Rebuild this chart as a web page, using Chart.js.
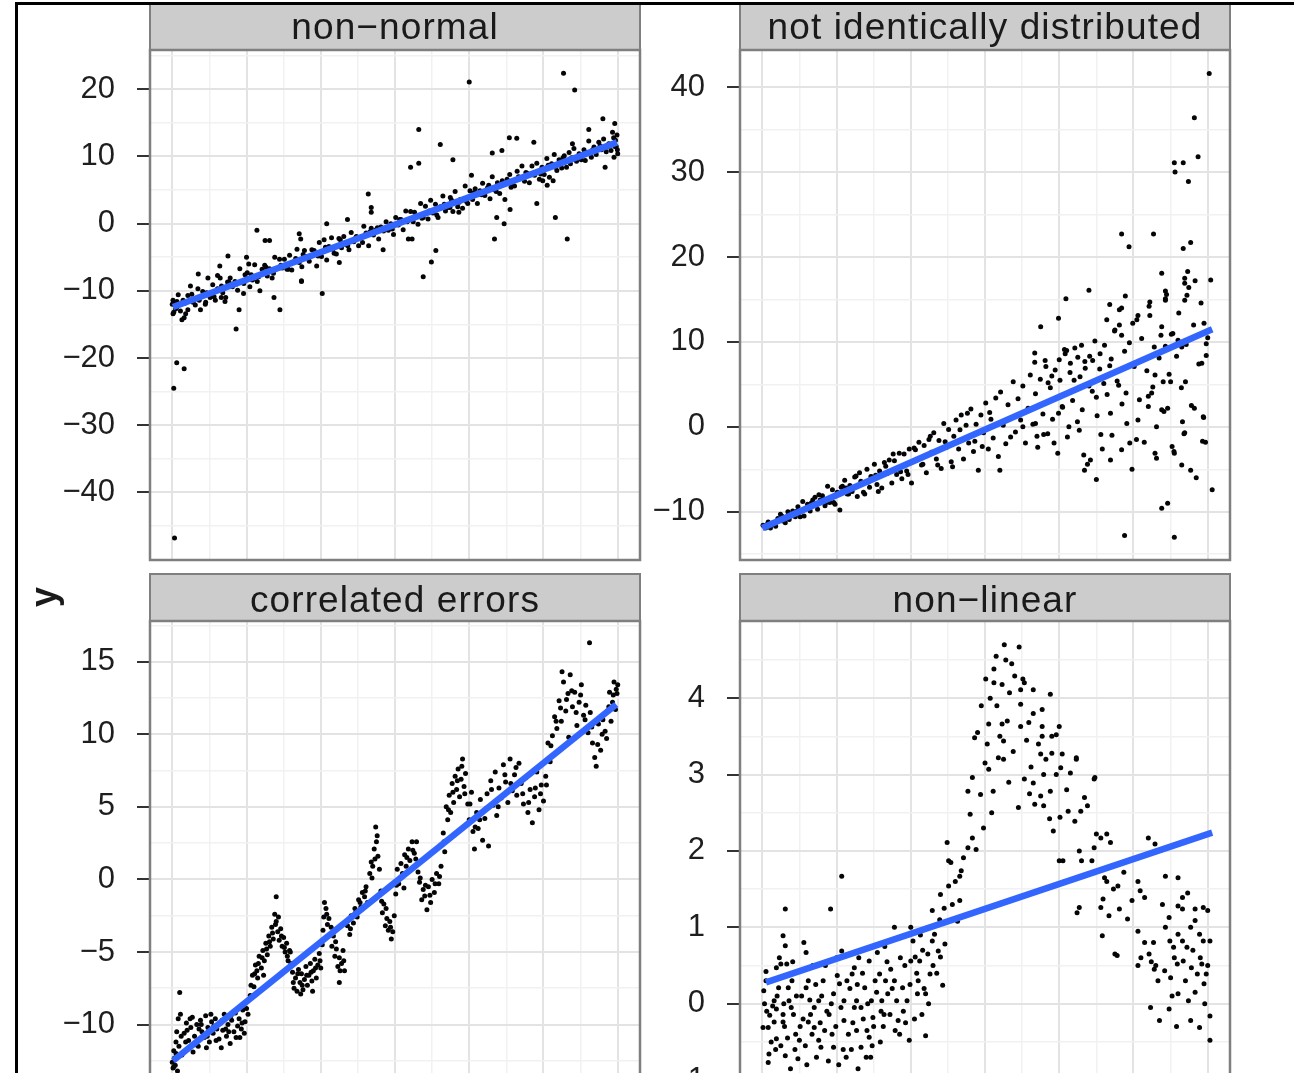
<!DOCTYPE html>
<html>
<head>
<meta charset="utf-8">
<script src="https://cdn.jsdelivr.net/npm/chart.js@4.4.1/dist/chart.umd.min.js"></script>
<style>
  html, body { margin: 0; padding: 0; background: #fff; }
  #fig { position: relative; width: 1294px; height: 1073px; overflow: hidden; background: #fff; }
  #fig canvas { position: absolute; }
  #frame { position: absolute; left: 15px; top: 2px; width: 1400px; height: 1300px;
           border-left: 3px solid #000; border-top: 3px solid #000; pointer-events: none; z-index: 5; }
  #ylab { position: absolute; left: 44px; top: 597px; transform: translate(-50%, -50%) rotate(-90deg);
          font-family: 'Liberation Sans', Arial, sans-serif; font-size: 36px; font-weight: bold; color: #1a1a1a; z-index: 4; }
</style>
</head>
<body>
<div id="fig">
  <canvas id="c1" width="660" height="560" style="left:0px;top:3px"></canvas>
  <canvas id="c2" width="650" height="560" style="left:600px;top:3px"></canvas>
  <canvas id="c3" width="660" height="560" style="left:0px;top:573px"></canvas>
  <canvas id="c4" width="650" height="560" style="left:600px;top:573px"></canvas>
  <div id="ylab">y</div>
  <div id="frame"></div>
</div>
<script>
// ---------------- data ----------------
const panelTitles = ['non\u2212normal', 'not identically distributed', 'correlated errors', 'non\u2212linear'];

const xTicks = [0, 5, 10, 15, 20, 25, 30, 35, 40, 45, 50, 55, 60];
const xMajor = [0, 10, 20, 30, 40, 50, 60];

const yTicksNonNormal = [-45, -40, -35, -30, -25, -20, -15, -10, -5, 0, 5, 10, 15, 20, 25];
const yMajorNonNormal = [-40, -30, -20, -10, 0, 10, 20];
const yTicksNotIdent = [-15, -10, -5, 0, 5, 10, 15, 20, 25, 30, 35, 40];
const yMajorNotIdent = [-10, 0, 10, 20, 30, 40];
const yTicksCorrelated = [-17.5, -15, -12.5, -10, -7.5, -5, -2.5, 0, 2.5, 5, 7.5, 10, 12.5, 15, 17.5];
const yMajorCorrelated = [-15, -10, -5, 0, 5, 10, 15];
const yTicksNonLinear = [-1.5, -1, -0.5, 0, 0.5, 1, 1.5, 2, 2.5, 3, 3.5, 4, 4.5];
const yMajorNonLinear = [-1, 0, 1, 2, 3, 4];

const fitNonNormal = [[0.1, -12.4], [59.9, 12.1]];
const fitNotIdent = [[0.0, -11.9], [60.6, 11.5]];
const fitCorrelated = [[0.1, -12.5], [59.8, 12.05]];
const fitNonLinear = [[0.5, 0.28], [60.6, 2.24]];

const nonNormalPts = [
[0.1,-11.4],[0.45,-12.7],[0.8,-10.6],[1.1,-13.0],[1.45,-11.4],[1.8,-13.4],[2.1,-10.7],[2.45,-9.3],[2.8,-11.7],
[3.1,-12.1],[3.45,-9.7],[3.8,-10.9],[4.1,-10.1],[4.45,-12.0],[4.8,-8.1],[5.1,-11.0],[5.45,-9.1],[5.8,-11.4],
[6.1,-9.7],[6.45,-8.1],[6.8,-10.3],[7.1,-11.6],[7.45,-8.7],[7.8,-8.1],[8.1,-9.4],[8.45,-8.6],[8.8,-9.9],
[9.1,-6.7],[9.45,-8.7],[9.8,-7.6],[10.1,-7.3],[10.45,-9.4],[10.8,-8.4],[11.1,-6.1],[11.45,-8.6],[11.8,-10.0],
[12.1,-6.8],[12.45,-6.2],[12.8,-7.8],[13.1,-6.7],[13.45,-8.1],[13.8,-5.0],[14.1,-6.7],[14.45,-5.3],[14.8,-6.6],
[15.1,-5.3],[15.45,-6.8],[15.8,-4.7],[16.1,-6.9],[16.45,-5.6],[16.8,-3.8],[17.1,-5.8],[17.45,-6.4],[17.8,-4.0],
[18.1,-4.9],[18.45,-5.6],[18.8,-3.9],[19.1,-4.0],[19.45,-6.3],[19.8,-2.8],[20.1,-4.9],[20.45,-2.4],[20.8,-5.4],
[21.1,-3.4],[21.45,-2.1],[21.8,-4.4],[22.1,-4.5],[22.45,-2.2],[22.8,-3.6],[23.1,-1.9],[23.45,-3.1],[23.8,-3.9],
[24.1,-1.3],[24.45,-2.7],[24.8,-1.9],[25.1,-3.3],[25.45,-2.0],[25.8,-0.4],[26.1,-1.4],[26.45,-3.3],[26.8,-0.7],
[27.1,-1.7],[27.45,-0.9],[27.8,-2.3],[28.1,-0.5],[28.45,-1.1],[28.8,0.3],[29.1,-1.0],[29.45,0.0],[29.8,-1.6],
[30.1,0.9],[30.45,-0.2],[30.8,0.6],[31.1,-0.9],[31.45,1.9],[31.8,0.5],[32.1,1.8],[32.45,0.3],[32.8,1.0],
[33.1,-0.1],[33.45,3.0],[33.8,0.9],[34.1,2.6],[34.45,0.7],[34.8,3.5],[35.1,1.6],[35.45,2.9],[35.8,0.9],
[36.1,2.5],[36.45,4.1],[36.8,1.9],[37.1,2.4],[37.45,3.9],[37.8,1.8],[38.1,4.8],[38.45,2.5],[38.8,3.6],
[39.1,2.3],[39.45,5.6],[39.8,3.0],[40.1,4.9],[40.45,3.6],[40.8,5.2],[41.1,3.0],[41.45,4.9],[41.8,6.0],
[42.1,4.2],[42.45,5.3],[42.8,3.7],[43.1,7.0],[43.45,5.0],[43.8,6.1],[44.1,4.5],[44.45,6.4],[44.8,3.6],
[45.1,6.6],[45.45,7.3],[45.8,5.7],[46.1,5.6],[46.45,7.8],[46.8,6.9],[47.1,8.6],[47.45,6.3],[47.8,7.5],
[48.1,6.1],[48.45,8.6],[48.8,7.2],[49.1,9.0],[49.45,6.6],[49.8,8.4],[50.1,7.3],[50.45,9.7],[50.8,6.9],
[51.1,8.9],[51.45,10.3],[51.8,7.9],[52.1,9.5],[52.45,8.3],[52.8,10.1],[53.1,8.4],[53.45,10.6],[53.8,9.8],
[54.1,11.2],[54.45,9.3],[54.8,10.4],[55.1,9.5],[55.45,11.0],[55.8,10.6],[56.1,12.3],[56.45,9.9],[56.8,11.4],
[57.1,10.3],[57.45,12.1],[57.8,11.0],[58.1,12.6],[58.45,10.7],[58.8,11.9],[59.1,10.9],[59.45,12.8],[59.8,11.5],
[59.9,13.2],[60.0,10.4],[59.7,12.4],[59.95,11.0],[59.5,9.9],[59.3,13.6],[0.0,-12.0],[0.2,-13.2],[0.4,-11.9],[0.6,-12.5],
[0.3,-46.8],[0.2,-24.5],[0.6,-20.7],[1.6,-21.6],[8.6,-15.7],[20.2,-10.4],[9.0,-12.8],[14.5,-12.8],[13.7,-11.0],
[17.4,-8.6],[1.3,-14.3],[1.6,-14.0],[0.1,-13.4],[2.1,-12.8],[3.8,-12.8],[6.6,-11.0],[7.2,-11.0],[9.6,-10.4],[4.5,-11.7],
[40.0,21.1],[52.7,22.4],[54.2,19.9],[33.2,14.0],[36.1,11.8],[32.1,8.4],[33.2,9.0],[37.8,9.5],[45.4,12.8],[46.4,12.7],
[48.7,12.1],[43.1,10.5],[44.4,10.9],[58.0,15.6],[59.6,14.9],[56.1,14.0],[53.9,11.9],[58.3,8.4],[51.3,6.4],[50.5,5.7],
[49.9,6.4],[51.6,0.9],[53.2,-2.3],[49.1,3.0],[43.4,-2.3],[43.7,0.9],[44.7,0.0],[45.5,2.1],[35.5,-4.0],[34.9,-5.7],
[33.8,-7.9],[26.4,4.4],[26.8,2.4],[26.8,1.7],[23.6,0.6],[20.8,0.0],[11.4,-1.0],[12.5,-2.5],[13.1,-2.5],[17.1,-1.5],
[17.3,-2.3],[22.5,-5.8],[7.5,-4.8],[6.4,-6.3],[6.1,-7.7],[3.5,-7.5],[10.0,-5.0],[10.3,-6.0],[17.4,-8.5],[28.4,-3.9],
[31.8,-2.3],[32.3,-2.3],[37.4,2.4],[38.6,1.7],[40.3,7.2]
];
const nonNormalDense = [
[0.63,-11.6],[1.63,-11.9],[2.63,-10.5],[3.63,-11.4],[4.63,-10.3],[5.63,-10.9],[6.63,-9.3],[7.63,-8.7],[8.63,-9.0],[9.63,-8.9],
[10.63,-7.6],[11.63,-7.9],[12.63,-6.5],[13.63,-7.4],[14.63,-6.2],[15.63,-6.8],[16.63,-5.2],[17.63,-4.6],[18.63,-4.9],[19.63,-4.8],
[20.63,-3.5],[21.63,-3.8],[22.63,-2.4],[23.63,-3.3],[24.63,-2.2],[25.63,-2.8],[26.63,-1.2],[27.63,-0.6],[28.63,-0.9],[29.63,-0.8],
[30.63,0.6],[31.63,0.3],[32.63,1.7],[33.63,0.8],[34.63,1.9],[35.63,1.3],[36.63,2.9],[37.63,3.5],[38.63,3.2],[39.63,3.3],
[40.63,4.6],[41.63,4.3],[42.63,5.7],[43.63,4.8],[44.63,6.0],[45.63,5.4],[46.63,7.0],[47.63,7.6],[48.63,7.3],[49.63,7.4],
[50.63,8.7],[51.63,8.4],[52.63,9.8],[53.63,8.9],[54.63,10.0],[55.63,9.4],[56.63,11.0],[57.63,11.6],[58.63,11.4],[59.63,11.5]
];

const notIdentPts = [
[0.1,-11.6],[0.45,-11.9],[0.8,-11.2],[1.1,-11.9],[1.45,-11.3],[1.8,-11.7],[2.1,-10.8],[2.45,-10.3],[2.8,-11.1],
[3.1,-11.3],[3.45,-10.0],[3.8,-10.5],[4.1,-9.9],[4.45,-10.6],[4.8,-9.4],[5.1,-10.6],[5.45,-8.8],[5.8,-9.7],
[6.1,-9.1],[6.45,-9.9],[6.8,-8.6],[7.1,-8.3],[7.45,-9.7],[7.8,-8.6],[8.1,-8.1],[8.45,-9.3],[8.8,-7.0],
[9.1,-8.9],[9.45,-7.4],[9.8,-9.1],[10.1,-7.7],[10.45,-9.8],[10.8,-7.0],[11.1,-6.3],[11.45,-7.9],[11.8,-6.9],
[12.1,-7.6],[12.45,-5.9],[12.8,-8.2],[13.1,-5.4],[13.45,-6.7],[13.8,-7.9],[14.1,-5.0],[14.45,-7.1],[14.8,-5.9],
[15.1,-4.4],[15.45,-6.8],[15.8,-5.2],[16.1,-7.2],[16.45,-4.2],[16.8,-5.5],[17.1,-3.9],[17.45,-6.6],[17.8,-4.0],
[18.1,-5.6],[18.45,-3.1],[18.8,-6.1],[19.1,-3.2],[19.45,-5.2],[19.8,-2.6],[20.1,-6.6],[20.45,-2.5],[20.8,-3.9],
[21.1,-1.8],[21.45,-4.5],[21.8,-2.2],[22.1,-5.4],[22.45,-1.5],[22.8,-3.0],[23.1,-0.7],[23.45,-3.8],[23.8,-1.6],
[24.1,-4.9],[24.45,0.4],[24.8,-2.4],[25.1,-0.3],[25.45,-4.1],[25.8,-1.1],[26.1,0.8],[26.45,-2.6],[26.8,1.4],
[27.1,-3.8],[27.45,0.2],[27.8,-1.9],[28.1,2.1],[28.45,-2.9],[28.8,0.3],[29.1,-5.1],[29.45,1.4],[29.8,-0.7],
[30.1,2.8],[30.45,-2.6],[30.8,0.9],[31.1,-1.3],[31.45,3.4],[31.8,-3.5],[32.1,4.1],[32.45,0.2],[32.8,-2.0],
[33.1,2.6],[33.45,-1.2],[33.8,5.3],[34.1,-0.6],[34.45,3.3],[34.8,0.8],[35.1,4.8],[35.45,-1.9],[35.8,2.2],
[36.1,6.1],[36.45,0.3],[36.8,3.9],[37.1,-2.4],[37.45,5.6],[37.8,1.5],[38.1,7.8],[38.45,-0.8],[38.8,4.6],
[39.1,0.9],[39.45,6.7],[39.8,-3.1],[40.1,5.5],[40.45,2.3],[40.8,8.6],[41.1,-1.2],[41.45,6.4],[41.8,3.1],
[42.1,9.3],[42.45,0.6],[42.8,5.9],[43.1,2.0],[43.45,7.7],[43.8,-4.4],[44.1,8.3],[44.45,4.2],[44.8,10.1],
[45.1,1.3],[45.45,6.8],[45.8,-2.6],[46.1,9.6],[46.45,3.8],[46.8,7.2],[47.1,-1.0],[47.45,11.3],[47.8,5.4],
[48.1,13.8],[48.45,2.7],[48.8,8.9],[49.1,0.4],[49.45,9.9],[49.8,-5.0],[50.1,7.1],[50.45,12.6],[50.8,3.2],
[51.1,10.4],[51.45,-1.8],[51.8,6.6],[52.1,14.2],[52.45,4.0],[52.8,9.4],[53.1,-3.7],[53.45,8.1],[53.8,11.8],
[54.1,1.8],[54.45,15.6],[54.8,6.2],[55.1,10.9],[55.45,-2.9],[55.8,8.3],[56.1,13.4],[56.45,4.6],[56.8,-0.8],
[57.1,9.7],[57.45,16.4],[57.8,2.5],[58.1,12.0],[58.45,-6.0],[58.8,7.4],[59.1,14.6],[59.45,1.1],[59.8,9.8],
[60.2,41.6],[58.2,36.4],[58.7,31.8],[55.5,31.1],[56.7,31.1],[55.6,30.0],[57.4,28.9],[48.4,22.7],[52.7,22.7],[49.4,21.2],
[57.7,21.7],[56.7,21.0],[53.8,18.1],[60.4,17.3],[57.3,18.3],[56.9,17.5],[56.9,16.9],[58.3,17.2],[54.3,16.0],[54.3,15.1],
[44.0,16.1],[48.9,15.4],[40.9,15.1],[52.2,14.7],[46.8,14.4],[48.4,14.0],[46.4,12.6],[48.1,12.0],[47.5,11.4],[48.4,10.8],
[49.9,12.2],[50.6,13.1],[52.2,13.1],[54.3,14.9],[56.9,14.9],[57.2,15.5],[37.5,11.8],[39.9,12.8],[40.7,9.1],[36.7,8.7],
[36.7,7.6],[59.5,12.2],[60.0,10.5],[59.8,8.4],[59.2,7.5],[56.0,10.2],[56.5,9.4],[55.3,11.0],[54.3,9.5],[53.7,10.8],
[57.0,5.3],[55.0,5.3],[54.0,5.3],[52.9,6.1],[52.6,4.7],[52.0,3.6],[52.0,2.4],[49.0,4.0],[48.0,4.9],[50.6,0.8],
[50.4,-1.5],[49.5,-1.9],[48.4,-2.7],[46.9,-3.9],[53.1,0.0],[52.9,-3.1],[53.8,2.0],[54.6,2.2],[56.6,0.6],[56.9,-0.7],
[56.5,-4.5],[57.7,-5.1],[55.2,-2.3],[55.5,-3.1],[58.2,2.2],[59.4,1.2],[59.3,-1.7],[59.7,-1.8],[60.6,-7.4],[54.6,-9.0],
[53.8,-9.6],[48.8,-12.8],[55.5,-13.0],[43.4,-5.1],[45.0,-6.2],[44.2,-3.9],[43.3,-3.3],[45.6,-0.9],[46.9,1.6],[32.0,-5.1],
[39.3,-1.9],[39.9,1.6],[40.4,2.4],[41.3,0.0],[42.7,-0.4],[37.0,-1.1],[37.9,-0.9],[35.1,0.0],[36.8,0.4],[38.2,7.1],
[41.5,7.5],[42.5,8.2],[43.5,6.9],[44.5,7.8],[45.5,8.6],[42.0,5.5],[44.0,4.8],[39.0,6.0],[40.0,7.9],[41.0,9.0],
[38.5,5.2],[43.0,9.6],[45.0,3.5],[46.0,5.1],[47.0,8.0]
];
const notIdentDense = [
[0.63,-11.5],[1.63,-11.4],[2.63,-10.5],[3.63,-10.9],[4.63,-9.95],[5.63,-10.5],[6.63,-8.95],[7.63,-8.0],[8.63,-8.9],[9.63,-8.9],
[10.63,-7.1],[11.63,-7.9],[12.63,-5.8],[13.63,-7.7],[14.63,-5.85],[15.63,-7.6],[16.63,-4.65],[17.63,-3.2],[18.63,-5.3],[19.63,-5.6],
[20.63,-2.7],[21.63,-4.4],[22.63,-1.1],[23.63,-4.5],[24.63,-1.75],[25.63,-4.7],[26.63,-0.35],[27.63,1.6],[28.63,-1.7],[29.63,-2.3],
[30.63,1.7],[0.28,-11.7],[1.28,-11.5],[2.28,-10.9],[3.28,-10.7],[4.28,-10.2],[5.28,-9.9],[6.28,-9.4],[7.28,-9.2],[8.28,-8.5],
[9.28,-8.3],[10.28,-7.9],[11.28,-7.2],[12.28,-7.1],[13.28,-6.4],[14.28,-6.5],[15.28,-5.7]
];

const correlatedPts = [
[0.0,-12.6],[0.1,-13.0],[0.2,-11.8],[0.3,-12.3],[0.5,-11.2],[0.6,-10.5],[0.8,-9.6],[1.0,-7.8],[1.1,-9.3],[1.2,-10.8],
[0.4,-12.8],[0.9,-11.5],[0.7,-13.2],
[1.6,-10.6],[1.9,-9.9],[2.2,-11.1],[2.5,-10.2],[2.7,-9.5],[3.0,-10.8],[3.3,-10.0],[3.5,-11.5],[3.8,-9.7],[4.0,-10.5],
[4.3,-10.9],[4.5,-9.4],[4.8,-10.2],[5.0,-11.2],[5.3,-9.8],[5.5,-10.6],[5.8,-9.6],[6.0,-10.3],[6.3,-11.0],[6.5,-9.9],
[6.8,-10.4],[7.0,-9.3],[7.3,-10.8],[7.5,-10.0],[7.8,-11.3],[8.0,-9.7],[8.3,-10.5],[8.5,-9.2],[8.8,-10.1],[9.0,-9.6],
[9.3,-10.3],[9.5,-9.0],[9.8,-9.8],[10.0,-8.9],[2.0,-10.4],[3.6,-10.3],[5.6,-10.1],[7.6,-10.5],[9.1,-10.9],[6.6,-11.6],
[4.6,-11.6],[2.8,-11.9],
[10.5,-8.0],[10.8,-6.6],[11.0,-7.4],[11.2,-5.9],[11.5,-6.8],[11.7,-5.3],[12.0,-6.1],[12.2,-4.9],[12.4,-5.6],[12.6,-4.4],
[12.8,-5.2],[13.0,-3.9],[13.2,-4.6],[13.4,-3.3],[13.6,-4.1],[13.8,-2.4],[14.0,-1.2],[14.0,-2.9],[14.2,-3.6],[14.4,-4.2],
[14.6,-3.4],[14.8,-4.6],[15.0,-4.0],[15.2,-5.0],[15.4,-4.4],[15.6,-5.6],[15.8,-4.9],[16.0,-5.8],[12.3,-6.6],[11.4,-6.3],
[16.2,-6.4],[16.4,-7.5],[16.6,-6.8],[16.8,-7.7],[17.0,-6.2],[17.2,-7.1],[17.4,-6.5],[17.6,-7.6],[17.8,-6.9],[18.0,-6.0],
[18.2,-7.3],[18.4,-6.6],[18.6,-5.8],[18.8,-7.0],[19.0,-6.3],[19.2,-5.5],[19.4,-6.8],[19.6,-5.9],[19.8,-5.1],[20.0,-6.1],
[17.3,-7.9],[18.9,-7.7],
[20.2,-4.5],[20.4,-2.6],[20.5,-1.6],[20.7,-2.0],[20.9,-3.1],[21.1,-2.7],[21.3,-3.8],[21.5,-4.6],[21.7,-3.9],[21.9,-5.3],
[22.1,-4.8],[22.3,-6.0],[22.5,-5.4],[22.5,-7.1],[22.8,-5.8],[23.0,-4.9],[23.2,-6.3],
[23.6,-3.2],[23.9,-3.8],[24.1,-2.5],[24.4,-3.0],[24.6,-2.0],[24.9,-2.6],[25.1,-1.4],[25.4,-1.9],[25.6,-0.9],[25.9,-1.2],
[26.1,-0.5],[26.3,-1.6],
[26.6,0.4],[26.8,1.2],[27.0,0.9],[27.2,2.1],[27.4,3.6],[27.5,2.6],[27.7,1.6],[27.9,0.7],
[28.1,-0.8],[28.3,-2.3],[28.5,-1.7],[28.7,-3.2],[28.9,-2.7],[29.1,-3.5],[29.3,-2.9],[29.5,-4.1],[29.7,-3.6],[29.9,-2.5],
[30.1,-1.0],[30.3,0.7],[30.5,-0.3],[30.8,1.1],[31.0,0.4],[31.3,1.7],[31.5,0.9],[31.8,2.1],[32.0,1.3],[32.3,2.6],
[32.6,1.8],[32.9,2.6],[31.2,-0.6],
[33.1,0.5],[33.3,-0.2],[33.6,-1.4],[33.8,-0.7],[34.0,-1.15],[34.3,-2.1],[34.5,-0.5],[34.8,-1.6],[35.0,0.0],[35.3,-0.9],
[35.6,0.4],[35.9,-0.3],[36.2,0.9],
[36.5,3.2],[36.7,1.9],[36.9,5.0],[37.1,4.1],[37.3,5.8],[37.5,4.6],[37.7,6.6],[37.9,5.3],[38.1,7.1],[38.3,6.2],
[38.5,7.6],[38.7,5.7],[38.9,6.9],[39.1,8.3],[39.3,6.4],[39.5,7.3],
[39.8,5.2],[40.0,4.1],[40.3,6.0],[40.5,3.3],[40.7,2.1],[41.0,4.6],[41.2,3.5],[41.5,5.5],[41.8,2.7],
[42.1,4.2],[42.4,5.9],[42.6,2.3],[42.9,6.8],[43.2,5.1],[43.5,7.4],[43.7,4.4],[44.0,6.3],[44.3,5.6],[44.6,7.9],
[44.9,6.7],[45.2,5.3],[45.5,8.3],[45.8,6.1],[46.1,7.2],[46.4,5.8],[46.7,8.0],
[47.0,6.6],[47.3,5.2],[47.6,7.0],[47.9,4.6],[48.2,6.2],[48.5,3.9],[48.8,5.7],[49.1,7.4],[49.4,4.8],[49.7,6.5],
[50.0,5.4],[50.3,7.1],
[50.6,9.4],[50.9,8.1],[51.2,9.9],[51.5,11.2],[51.8,10.4],[52.1,12.3],[52.4,10.9],[52.7,13.6],[53.0,11.6],[53.3,12.8],
[53.6,14.1],[53.9,11.9],[54.2,12.9],[54.5,10.6],[54.8,12.2],[55.1,13.4],[55.4,11.3],[52.5,14.3],[53.4,9.8],
[56.2,16.3],[55.7,12.0],[56.0,10.1],[56.3,11.5],[56.6,9.4],[56.9,8.4],[57.1,7.8],[57.4,10.7],[57.7,8.9],[58.0,11.0],
[58.3,10.2],[58.6,11.6],[58.9,12.9],[59.1,10.9],[59.3,12.2],[59.5,13.6],[59.7,11.7],[59.9,12.8],[60.0,13.4],[58.5,9.7]
];
const correlatedDense = [
[1.8,-11.2],[2.4,-9.6],[3.1,-11.4],[3.9,-10.0],[4.7,-10.8],[5.2,-9.3],[5.9,-11.1],[6.7,-9.7],[7.2,-10.3],[7.9,-9.4],
[8.6,-10.9],[9.4,-9.9],[9.7,-10.6],[10.2,-9.3],[1.3,-12.1],[0.5,-12.0],[0.2,-12.9],
[10.6,-7.3],[11.1,-6.5],[11.6,-5.8],[12.1,-5.4],[12.7,-4.8],[13.1,-4.3],[13.5,-3.7],[13.9,-3.1],[14.3,-2.6],[14.7,-3.9],
[15.1,-4.7],[15.5,-5.3],[15.9,-5.0],[16.3,-7.1],[16.9,-6.5],[17.5,-7.3],[18.1,-6.6],[18.7,-6.4],[19.3,-6.1],[19.9,-5.6],
[20.3,-3.5],[20.8,-2.4],[21.4,-3.3],[22.0,-4.3],[22.6,-6.3],[23.1,-5.6],[24.0,-3.4],[24.7,-2.3],[25.3,-1.6],[26.0,-0.8],
[26.9,0.1],[27.3,1.4],[27.6,3.0],[28.2,-1.5],[28.8,-2.0],[29.4,-3.3],[30.2,-0.4],[30.9,0.2],[31.6,1.5],[32.4,2.0],
[32.8,1.4],[33.4,0.1],[34.1,-0.4],[34.7,-1.1],[35.4,-0.3],[36.0,0.2],[36.6,2.6],[37.2,4.8],[37.8,6.0],[38.4,6.8],
[39.0,7.8],[39.4,5.9],[40.1,5.2],[40.8,3.6],[41.4,4.1],[42.3,4.9],[43.0,6.2],[43.9,5.0],[44.8,7.2],[45.6,6.6],
[46.3,7.7],[47.2,5.9],[48.0,5.3],[48.9,6.3],[49.6,5.9],[50.4,6.5],[51.0,9.2],[51.7,10.9],[52.3,11.8],[53.1,12.4],
[53.8,13.0],[54.4,11.5],[55.0,12.7],[55.6,11.0],[56.5,10.5],[57.3,9.3],[57.9,10.0],[58.8,11.9],[59.4,12.7],[59.8,13.1]
];

const nonLinearPts = [
[0.5,0.42],[0.5,0.3],[0.2,0.17],[0.1,-0.31],[0.8,-0.31],[0.9,-0.66],[0.8,-0.77],[1.9,0.47],[2.5,0.52],[2.2,0.21],
[1.6,0.04],[1.4,-0.03],[1.9,-0.07],[2.8,-0.14],[1.6,-0.24],[2.8,-0.24],[1.9,-0.46],[2.5,-0.55],[3.1,-0.68],[2.8,0.89],
[3.1,0.76],[3.1,1.24],[3.3,0.52],[3.5,0.21],[3.6,0.04],[3.9,-0.05],[4.2,-0.14],[4.5,-0.4],[4.8,-0.72],[5.0,-0.48],
[5.6,0.8],[5.9,0.67],[6.2,0.3],[5.9,0.21],[6.5,-0.14],[6.2,-0.24],[7.0,-0.31],[6.7,-0.4],[7.6,-0.48],[7.6,0.04],
[7.0,-0.05],[8.2,0.3],[7.9,-0.57],[8.4,-0.35],[9.0,-0.14],[9.2,1.24],[9.3,0.0],[9.6,0.13],[9.6,-0.57],[10.1,0.37],
[10.4,0.26],[10.7,1.67],[10.7,0.69],[11.0,0.04],[11.0,-0.22],[11.3,-0.7],[11.6,-0.4],[12.1,0.39],[12.4,0.47],[12.4,-0.05],
[12.7,0.04],[12.7,-0.35],[13.3,-0.05],[13.3,-0.57],[13.8,0.21],[14.1,-0.35],[14.4,0.56],[14.4,-0.44],[14.7,0.04],[14.9,-0.18],
[15.2,0.3],[15.5,0.67],[15.8,0.39],[16.1,0.04],[16.4,-0.14],[16.6,0.3],[16.9,0.13],[17.2,-0.14],[17.8,1.0],[17.8,0.3],
[18.1,0.04],[18.3,-0.22],[18.9,0.21],[19.5,0.04],[19.8,-0.48],[20.0,1.0],[20.0,0.56],[20.3,0.82],[20.6,0.61],[20.9,0.13],
[21.2,0.56],[21.5,-0.14],[22.0,0.13],[22.0,-0.42],[22.6,0.39],[22.9,1.22],[22.9,0.82],[23.2,0.91],[23.7,0.69],[24.0,1.43],
[24.0,0.61],[24.3,0.24],[24.6,0.78],[25.1,1.87],[25.1,1.54],[25.4,1.85],[24.9,2.11],[26.3,1.08],[26.6,1.35],[26.6,1.67],
[26.8,1.74],[27.1,1.91],[27.7,2.04],[28.0,2.48],[28.3,2.17],[28.8,2.02],
[1.2,-0.5],[2.0,0.1],[3.0,-0.3],[4.0,0.3],[4.4,-0.6],[5.3,0.1],[5.5,-0.2],[6.8,0.5],[7.3,-0.7],[8.0,0.1],
[8.7,-0.1],[9.9,-0.3],[10.3,-0.8],[11.8,0.2],[12.0,-0.6],[13.0,0.6],[13.6,-0.2],[14.0,-0.7],[15.0,-0.3],[15.9,-0.5],
[16.8,0.55],[17.5,0.2],[18.5,-0.4],[19.2,0.5],[19.0,-0.1],[21.0,0.3],[21.8,0.2],[22.3,0.65],[23.5,0.4],[0.3,0.0],
[1.0,-0.15],[3.8,-0.85],[6.0,-0.8],[8.9,-0.75],[10.9,-0.6],[12.9,-0.85],[14.6,-0.7],[16.3,-0.3],[20.5,-0.2],[21.3,0.9],
[32.6,4.7],[34.6,4.67],[32.8,4.5],[31.2,4.38],[30.1,4.25],[31.2,4.2],[32.3,4.18],[34.0,4.29],[35.1,4.25],[35.3,4.2],
[33.3,4.07],[34.8,4.11],[36.5,4.11],[38.8,4.05],[30.7,4.0],[34.8,3.92],[36.5,3.8],[37.7,3.85],[30.5,3.66],[32.3,3.66],
[34.8,3.63],[35.9,3.68],[37.7,3.63],[40.0,3.63],[29.0,3.55],[28.6,3.48],[32.0,3.5],[32.5,3.44],[37.7,3.5],[39.0,3.5],
[39.6,3.52],[37.2,3.4],[37.5,3.27],[39.0,3.28],[40.4,3.27],[42.3,3.2],[31.8,3.22],[32.5,3.2],[30.0,3.15],[30.5,3.07],
[28.3,2.96],[27.7,2.78],[31.1,2.78],[29.4,2.74],[35.3,2.94],[36.5,2.89],[37.9,3.0],[39.6,3.0],[40.2,3.09],[41.5,3.02],
[44.7,2.94],[44.8,2.96],[42.3,3.22],[36.0,2.75],[37.5,2.72],[38.8,2.78],[34.5,2.57],[36.7,2.61],[37.9,2.59],[38.7,2.42],
[39.2,2.26],[40.1,2.44],[41.2,2.52],[42.1,2.39],[42.9,2.52],[43.8,2.59],[40.0,1.87],[40.5,1.87],[42.7,2.0],[43.0,1.87],
[44.4,1.87],[44.7,2.04],[45.0,2.22],[45.6,2.17],[46.4,2.22],[46.9,2.11],[42.4,1.19],[42.7,1.26],[46.1,1.65],[46.4,1.6],
[47.3,1.5],[47.9,1.54],[48.7,1.72],[45.9,1.37],[45.6,1.26],[46.7,1.15],[48.1,1.24],[49.2,1.11],[49.8,1.35],[45.8,0.89],
[47.5,0.65],[47.8,0.63],[50.6,1.6],[50.9,1.48],[51.5,1.39],[52.0,2.17],[52.9,2.09],
[29.5,3.9],[30.3,3.4],[31.6,3.9],[33.0,3.7],[33.8,3.3],[35.6,3.45],[36.2,3.1],[33.2,2.9],[30.9,2.5],[29.8,2.3],
[38.2,3.2],[41.0,2.8],[43.4,2.7],[31.5,4.55],[33.6,4.45],
[50.6,0.95],[51.5,0.8],[52.1,0.65],[51.0,0.6],[52.4,0.55],[52.7,0.8],[53.0,0.5],[52.8,0.45],[50.6,0.5],[54.3,1.67],
[56.0,1.65],[56.6,1.39],[52.3,-0.05],[53.5,-0.22],[54.8,-0.07],[56.0,0.13],[57.4,0.04],[57.7,-0.22],[58.9,-0.31],[60.3,-0.48],
[60.3,-0.16],[58.3,0.15],[53.3,0.3],[54.2,0.43],[55.0,0.34],[55.9,0.52],[56.7,0.56],[57.8,0.47],[58.6,0.39],[59.2,0.52],
[59.8,0.39],[59.5,0.26],[54.3,1.0],[54.9,0.82],[55.4,0.74],[56.0,0.91],[56.6,0.82],[57.2,0.74],[57.7,1.0],[58.3,1.09],
[58.9,0.91],[59.4,0.82],[60.0,1.22],[60.3,0.82],[59.4,1.26],[58.3,1.24],[56.6,1.24],[56.0,1.28],[54.8,1.13],[55.5,0.6],
[57.0,0.3],[58.0,0.7],[59.0,0.6],[60.0,0.5],[55.8,-0.3],[59.6,0.0],[53.9,1.3],[57.3,1.45],[55.2,0.1]
];
const nonLinearDense = [
[0.6,-0.1],[1.3,0.3],[1.8,-0.6],[2.3,0.6],[2.9,0.0],[3.4,-0.45],[4.1,0.55],[4.6,0.1],[5.1,-0.3],[5.8,-0.55],
[6.4,0.05],[7.2,0.25],[7.8,-0.25],[8.5,0.5],[9.4,-0.4],[10.0,0.6],[10.6,-0.05],[11.4,0.3],[12.2,-0.25],[12.8,0.25],
[13.5,0.4],[14.2,0.0],[14.8,-0.55],[15.4,0.15],[16.0,-0.1],[16.5,0.75],[17.3,0.45],[17.9,-0.35],[18.6,0.6],[19.3,-0.25],
[19.9,0.25],[20.8,0.4],[21.6,0.7],[22.4,0.0],[23.0,0.5],[23.9,1.1],[24.5,1.25],[25.6,1.3],[26.0,1.6]
];

// ---------------- drawing ----------------
const FONT = "'Liberation Sans', Arial, Helvetica, sans-serif";
const GREY50 = '#7f7f7f';

const framePlugin = {
  id: 'panelFrame',
  afterLayout(chart) {
    const t = chart.titleBlock;
    if (t && !t._spaced) {
      const orig = t.draw.bind(t);
      t.draw = function (area) {
        const ctx = chart.ctx;
        ctx.save();
        ctx.letterSpacing = '1.1px';
        orig(area);
        ctx.restore();
      };
      t._spaced = true;
    }
  },
  beforeDraw(chart) {
    const a = chart.chartArea, ctx = chart.ctx;
    ctx.save();
    ctx.fillStyle = '#cccccc';
    ctx.fillRect(a.left, 0, a.right - a.left, a.top);
    ctx.strokeStyle = GREY50;
    ctx.lineWidth = 2;
    ctx.strokeRect(a.left, 1, a.right - a.left, a.top - 1);
    ctx.restore();
  },
  afterDraw(chart) {
    const a = chart.chartArea, ctx = chart.ctx;
    ctx.save();
    ctx.strokeStyle = GREY50;
    ctx.lineWidth = 2.5;
    ctx.strokeRect(a.left, a.top, a.right - a.left, a.bottom - a.top);
    ctx.restore();
  }
};

function fmt(v) { return v < 0 ? '\u2212' + String(Math.abs(v)) : String(v); }

function makePanel(id, title, pts, fit, yMin, yMax, yTicks, yMajor, yWidth, padRight, padBottom, titlePad) {
  const yMajSet = new Set(yMajor);
  const xMajSet = new Set(xMajor);
  new Chart(document.getElementById(id), {
    data: {
      datasets: [
        { type: 'line', data: fit.map(p => ({ x: p[0], y: p[1] })), borderColor: '#3366FF', borderWidth: 6.5,
          pointRadius: 0, fill: false, order: 0, borderCapStyle: 'butt' },
        { type: 'scatter', data: pts.map(p => ({ x: p[0], y: p[1] })), pointRadius: 2.5, pointHoverRadius: 2.5,
          backgroundColor: '#050505', borderWidth: 0, order: 1 }
      ]
    },
    options: {
      responsive: false, animation: false, devicePixelRatio: 1,
      layout: { padding: { left: 0, right: padRight, top: 0, bottom: padBottom } },
      plugins: {
        legend: { display: false }, tooltip: { enabled: false },
        title: { display: true, text: title, fullSize: false, color: '#1a1a1a',
                 font: { family: FONT, size: 37, weight: 'normal', lineHeight: 1 },
                 padding: titlePad }
      },
      scales: {
        x: { type: 'linear', position: 'bottom', min: -3, max: 63,
             afterBuildTicks: s => { s.ticks = xTicks.map(v => ({ value: v })); },
             ticks: { display: false },
             grid: { drawTicks: false,
                     color: c => xMajSet.has(c.tick.value) ? '#e3e3e3' : '#f1f1f1',
                     lineWidth: c => xMajSet.has(c.tick.value) ? 2 : 1.5 },
             border: { display: false },
             afterFit: s => { s.height = 0; s.paddingLeft = 0; s.paddingRight = 0; } },
        y: { type: 'linear', position: 'left', min: yMin, max: yMax,
             afterBuildTicks: s => { s.ticks = yTicks.map(v => ({ value: v })); },
             ticks: { autoSkip: false, padding: 22, color: '#1e1e1e', font: { family: FONT, size: 31 },
                      callback: v => yMajSet.has(v) ? fmt(v) : '' },
             grid: { drawTicks: true, tickLength: 13, tickWidth: 2,
                     tickColor: c => yMajSet.has(c.tick.value) ? '#333' : 'rgba(0,0,0,0)',
                     color: c => yMajSet.has(c.tick.value) ? '#e3e3e3' : '#f1f1f1',
                     lineWidth: c => yMajSet.has(c.tick.value) ? 2 : 1.5 },
             border: { display: false },
             afterFit: s => { s.width = yWidth; s.paddingTop = 0; s.paddingBottom = 0; } }
      }
    },
    plugins: [framePlugin]
  });
}

makePanel('c1', panelTitles[0], nonNormalPts.concat(nonNormalDense), fitNonNormal, -50.07, 25.85, yTicksNonNormal, yMajorNonNormal, 150, 20, 3, { top: 7, bottom: 3 });
makePanel('c2', panelTitles[1], notIdentPts.concat(notIdentDense), fitNotIdent, -15.68, 44.38, yTicksNotIdent, yMajorNotIdent, 140, 20, 3, { top: 7, bottom: 3 });
makePanel('c3', panelTitles[2], correlatedPts.concat(correlatedDense), fitCorrelated, -17.3, 17.8, yTicksCorrelated, yMajorCorrelated, 150, 20, 2, { top: 10, bottom: 1 });
makePanel('c4', panelTitles[3], nonLinearPts.concat(nonLinearDense), fitNonLinear, -1.66, 5.01, yTicksNonLinear, yMajorNonLinear, 140, 20, 2, { top: 10, bottom: 1 });
</script>
</body>
</html>
